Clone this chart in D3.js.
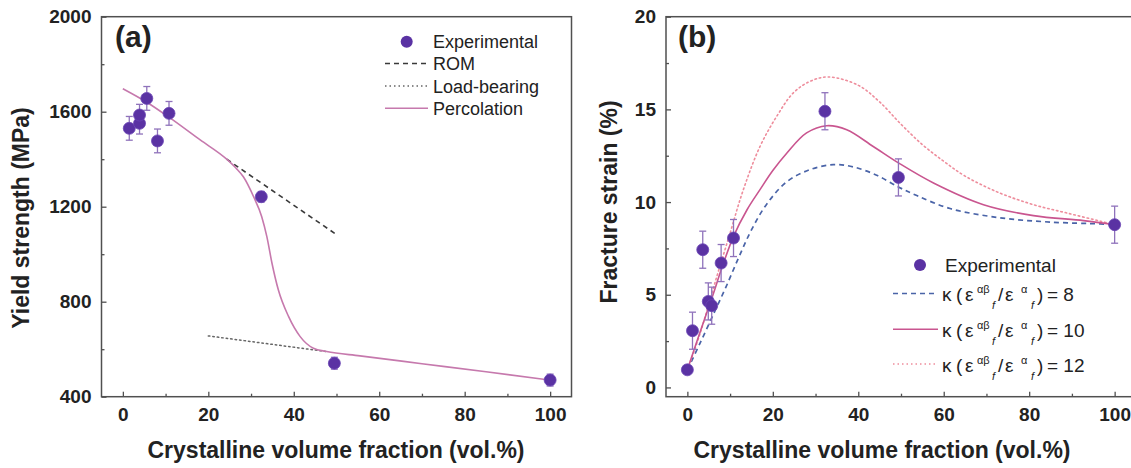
<!DOCTYPE html>
<html>
<head>
<meta charset="utf-8">
<script src="https://cdn.jsdelivr.net/npm/d3@7"></script>
<style>
  body { margin: 0; background: #fff; }
  text { font-family: "Liberation Sans", Arial, sans-serif; }
</style>
</head>
<body>
<svg id="fig" width="1131" height="468"></svg>
<script>
// ---------- shared axis ticks ----------
const xMajor = [0, 20, 40, 60, 80, 100];
const xMinor = [10, 30, 50, 70, 90];

// ---------- (a) yield strength ----------
const yMajorA = [400, 800, 1200, 1600, 2000];
const yMinorA = [600, 1000, 1400, 1800];
const expVolA = [1.5, 3.9, 3.9, 5.6, 8.1, 10.8, 32.4, 49.5, 100];
const expYield = [1530, 1551, 1586, 1656, 1477, 1593, 1242, 541, 470];
const expYieldErr = [50, 45, 45, 50, 50, 50, 22, 25, 25];

const romVol = [24.3, 50.2];
const romYield = [1400, 1080];
const lbVol = [20, 47.7];
const lbYield = [656, 590];
const percVol = [0, 5.6, 10.7, 18.1, 24.3, 26.5, 28.2, 30.6, 32.5, 33.7, 34.9, 36.4, 38.8, 41.5, 44.6, 47.7, 55.5, 70, 85, 100];
const percYield = [1697, 1640, 1578, 1481, 1400, 1362, 1326, 1242, 1158, 1074, 962, 849, 737, 653, 604, 590, 572, 539, 505, 470];

// ---------- (b) fracture strain ----------
const yMajorB = [0, 5, 10, 15, 20];
const yMinorB = [2.5, 7.5, 12.5, 17.5];
const expVolB = [0, 1.2, 3.6, 4.9, 5.7, 7.9, 10.8, 32.2, 49.4, 100];
const expStrain = [0.95, 3.06, 7.43, 4.64, 4.41, 6.71, 8.06, 14.9, 11.33, 8.78];
const expStrainErr = [0.15, 1.0, 1.0, 1.0, 1.0, 1.0, 1.0, 1.0, 1.0, 1.0];

const k8Vol = [0, 3, 6, 9, 12, 15, 18.6, 23.3, 28.7, 34.2, 38.8, 44.3, 49.5, 53.7, 61.5, 73.2, 84.9, 96.6, 100];
const k8Strain = [0.95, 2.4, 3.9, 5.4, 7.0, 8.5, 9.9, 11.1, 11.75, 12.02, 11.9, 11.45, 10.8, 10.35, 9.65, 9.15, 8.92, 8.82, 8.78];
const k10Vol = [0, 3, 6, 8, 10.8, 14, 17, 20, 23.3, 27.9, 32.6, 37.3, 43.5, 49.5, 57.6, 69.3, 81, 92.7, 100];
const k10Strain = [0.95, 3.0, 5.0, 6.4, 8.15, 9.6, 10.67, 11.7, 12.65, 13.73, 14.12, 13.9, 13.0, 12.1, 11.03, 9.86, 9.27, 9.0, 8.78];
const k12Vol = [0, 3, 6.9, 10, 13.1, 17, 20.9, 24.8, 28.7, 33, 40, 45, 50, 55, 60, 65, 73, 81, 89, 97, 100];
const k12Strain = [0.95, 2.93, 5.99, 8.33, 10.67, 13.0, 14.62, 15.89, 16.51, 16.75, 16.3, 15.4, 14.2, 13.1, 12.2, 11.4, 10.5, 9.86, 9.4, 8.95, 8.78];

// ---------- styles ----------
const DOT = "#5a32a3";
const ERR = "#8f72bb";
const FRAME = "#505050";
const INK = "#222";

const svg = d3.select("#fig");
svg.append("rect").attr("width", 1131).attr("height", 468).attr("fill", "#fff");

const TOP = 16.7, BOTTOM = 396.7;

function makePanel(cfg) {
  const g = svg.append("g");
  const x = d3.scaleLinear().domain([-5, 105]).range([cfg.left, cfg.right]);
  const y = d3.scaleLinear().domain(cfg.yDomain).range([BOTTOM, TOP]);

  const styleAxis = sel => {
    sel.select(".domain").remove();
    sel.selectAll(".tick line").attr("stroke", FRAME).attr("stroke-width", 1.3);
    sel.selectAll(".tick text").attr("font-size", 19).attr("font-weight", "bold").attr("fill", INK);
  };

  g.append("g").attr("transform", `translate(0,${BOTTOM})`)
    .call(d3.axisBottom(x).tickValues(xMajor).tickSize(-5).tickPadding(11).tickFormat(d3.format("d")))
    .call(styleAxis);
  g.append("g").attr("transform", `translate(0,${BOTTOM})`)
    .call(d3.axisBottom(x).tickValues(xMinor).tickSize(-3).tickFormat(""))
    .call(styleAxis);
  g.append("g").attr("transform", `translate(${cfg.left},0)`)
    .call(d3.axisLeft(y).tickValues(cfg.yMajor).tickSize(-5).tickPadding(10).tickFormat(d3.format("d")))
    .call(styleAxis);
  g.append("g").attr("transform", `translate(${cfg.left},0)`)
    .call(d3.axisLeft(y).tickValues(cfg.yMinor).tickSize(-3).tickFormat(""))
    .call(styleAxis);

  g.append("rect")
    .attr("x", cfg.left).attr("y", TOP)
    .attr("width", cfg.right - cfg.left).attr("height", BOTTOM - TOP)
    .attr("fill", "none").attr("stroke", FRAME).attr("stroke-width", 1.5);

  // axis titles
  g.append("text")
    .attr("transform", `translate(${cfg.yTitleX},${cfg.yTitleY}) rotate(-90)`)
    .attr("text-anchor", "middle").attr("font-size", 23).attr("font-weight", "bold").attr("fill", INK)
    .text(cfg.yTitle);
  g.append("text")
    .attr("x", cfg.xTitleX).attr("y", 458)
    .attr("text-anchor", "middle").attr("font-size", 23).attr("font-weight", "bold").attr("fill", INK)
    .text("Crystalline volume fraction (vol.%)");

  // panel tag
  g.append("text")
    .attr("x", cfg.tagX).attr("y", 47)
    .attr("font-size", 30).attr("font-weight", "bold").attr("fill", INK)
    .text(cfg.tag);

  return { g, x, y };
}

function drawLine(p, xs, ys, color, width, dash, curve) {
  const pts = xs.map((v, i) => [v, ys[i]]);
  const line = d3.line().x(d => p.x(d[0])).y(d => p.y(d[1])).curve(curve || d3.curveLinear);
  p.g.append("path").datum(pts)
    .attr("d", line).attr("fill", "none")
    .attr("stroke", color).attr("stroke-width", width)
    .attr("stroke-dasharray", dash || null)
    .attr("stroke-linecap", dash && dash.startsWith("1.") ? "round" : "butt");
}

function drawPoints(p, xs, ys, errs) {
  const data = xs.map((v, i) => ({ v, s: ys[i], e: errs[i] }));
  const eb = p.g.append("g").attr("stroke", ERR).attr("stroke-width", 1.3);
  data.forEach(d => {
    const cx = p.x(d.v), y1 = p.y(d.s - d.e), y2 = p.y(d.s + d.e);
    eb.append("line").attr("x1", cx).attr("x2", cx).attr("y1", y1).attr("y2", y2);
    eb.append("line").attr("x1", cx - 3.5).attr("x2", cx + 3.5).attr("y1", y1).attr("y2", y1);
    eb.append("line").attr("x1", cx - 3.5).attr("x2", cx + 3.5).attr("y1", y2).attr("y2", y2);
  });
  p.g.append("g").selectAll("circle").data(data).join("circle")
    .attr("cx", d => p.x(d.v)).attr("cy", d => p.y(d.s)).attr("r", 6)
    .attr("fill", DOT).attr("stroke", "#6b45b5").attr("stroke-width", 0.8);
}

// ================= panel (a) =================
const pa = makePanel({
  left: 101.5, right: 571.5, yDomain: [400, 2000], yMajor: yMajorA, yMinor: yMinorA,
  yTitle: "Yield strength (MPa)", yTitleX: 29, yTitleY: 218, xTitleX: 336, tag: "(a)", tagX: 115
});
drawLine(pa, romVol, romYield, "#3a3a3a", 1.6, "5,4");
drawLine(pa, lbVol, lbYield, "#666", 1.5, "1.5,3");
drawLine(pa, percVol, percYield, "#c679ad", 1.6, null, d3.curveMonotoneX);
drawPoints(pa, expVolA, expYield, expYieldErr);

// legend (a)
const legA = pa.g.append("g");
const legARows = [41.7, 63.5, 86, 108.3];
legA.append("circle").attr("cx", 406.7).attr("cy", legARows[0]).attr("r", 6).attr("fill", DOT);
[["#3a3a3a", "5,4", 1.6], ["#666", "1.5,3", 1.5], ["#c679ad", null, 1.6]].forEach((s, i) => {
  legA.append("line").attr("x1", 385).attr("x2", 428)
    .attr("y1", legARows[i + 1]).attr("y2", legARows[i + 1])
    .attr("stroke", s[0]).attr("stroke-dasharray", s[1]).attr("stroke-width", s[2]);
});
["Experimental", "ROM", "Load-bearing", "Percolation"].forEach((t, i) => {
  legA.append("text").attr("x", 433).attr("y", legARows[i] + 6.5)
    .attr("font-size", 18).attr("fill", INK).text(t);
});

// ================= panel (b) =================
const pb = makePanel({
  left: 666, right: 1136, yDomain: [-0.5, 20], yMajor: yMajorB, yMinor: yMinorB,
  yTitle: "Fracture strain (%)", yTitleX: 617, yTitleY: 202, xTitleX: 882, tag: "(b)", tagX: 678
});
drawLine(pb, k8Vol, k8Strain, "#4a64a8", 1.7, "5,4", d3.curveCatmullRom);
drawLine(pb, k12Vol, k12Strain, "#ee8d9c", 1.6, "1.5,3", d3.curveCatmullRom);
drawLine(pb, k10Vol, k10Strain, "#c9558f", 1.6, null, d3.curveCatmullRom);
drawPoints(pb, expVolB, expStrain, expStrainErr);

// legend (b)
const legB = pb.g.append("g");
legB.append("circle").attr("cx", 920).attr("cy", 265).attr("r", 6).attr("fill", DOT);
legB.append("text").attr("x", 945).attr("y", 272).attr("font-size", 19).attr("fill", INK).text("Experimental");

const kRows = [
  { y: 293.5, color: "#4a64a8", dash: "5,4", w: 1.7, val: "8" },
  { y: 329.3, color: "#c9558f", dash: null, w: 1.6, val: "10" },
  { y: 364, color: "#ee8d9c", dash: "1.5,3", w: 1.6, val: "12" }
];
// κ(ε^αβ_f / ε^α_f) label built from separately placed glyph runs
function kappaLabel(g, x0, yb, val) {
  const parts = [
    { s: "κ", o: 0 }, { s: "(", o: 14 }, { s: "ε", o: 23 },
    { s: "αβ", o: 35, dy: -8, fs: 11 }, { s: "f", o: 50, dy: 8, fs: 11, it: true },
    { s: "/", o: 56 }, { s: "ε", o: 63 },
    { s: "α", o: 79, dy: -8, fs: 11 }, { s: "f", o: 89, dy: 8, fs: 11, it: true },
    { s: ")", o: 95 }, { s: "= " + val, o: 105 }
  ];
  parts.forEach(p => {
    g.append("text").attr("x", x0 + p.o).attr("y", yb + (p.dy || 0))
      .attr("font-size", p.fs || 19).attr("font-style", p.it ? "italic" : null)
      .attr("fill", INK).text(p.s);
  });
}
kRows.forEach(r => {
  legB.append("line").attr("x1", 893).attr("x2", 938).attr("y1", r.y).attr("y2", r.y)
    .attr("stroke", r.color).attr("stroke-dasharray", r.dash).attr("stroke-width", r.w);
  kappaLabel(legB, 942, r.y + 7.5, r.val);
});
</script>
</body>
</html>
